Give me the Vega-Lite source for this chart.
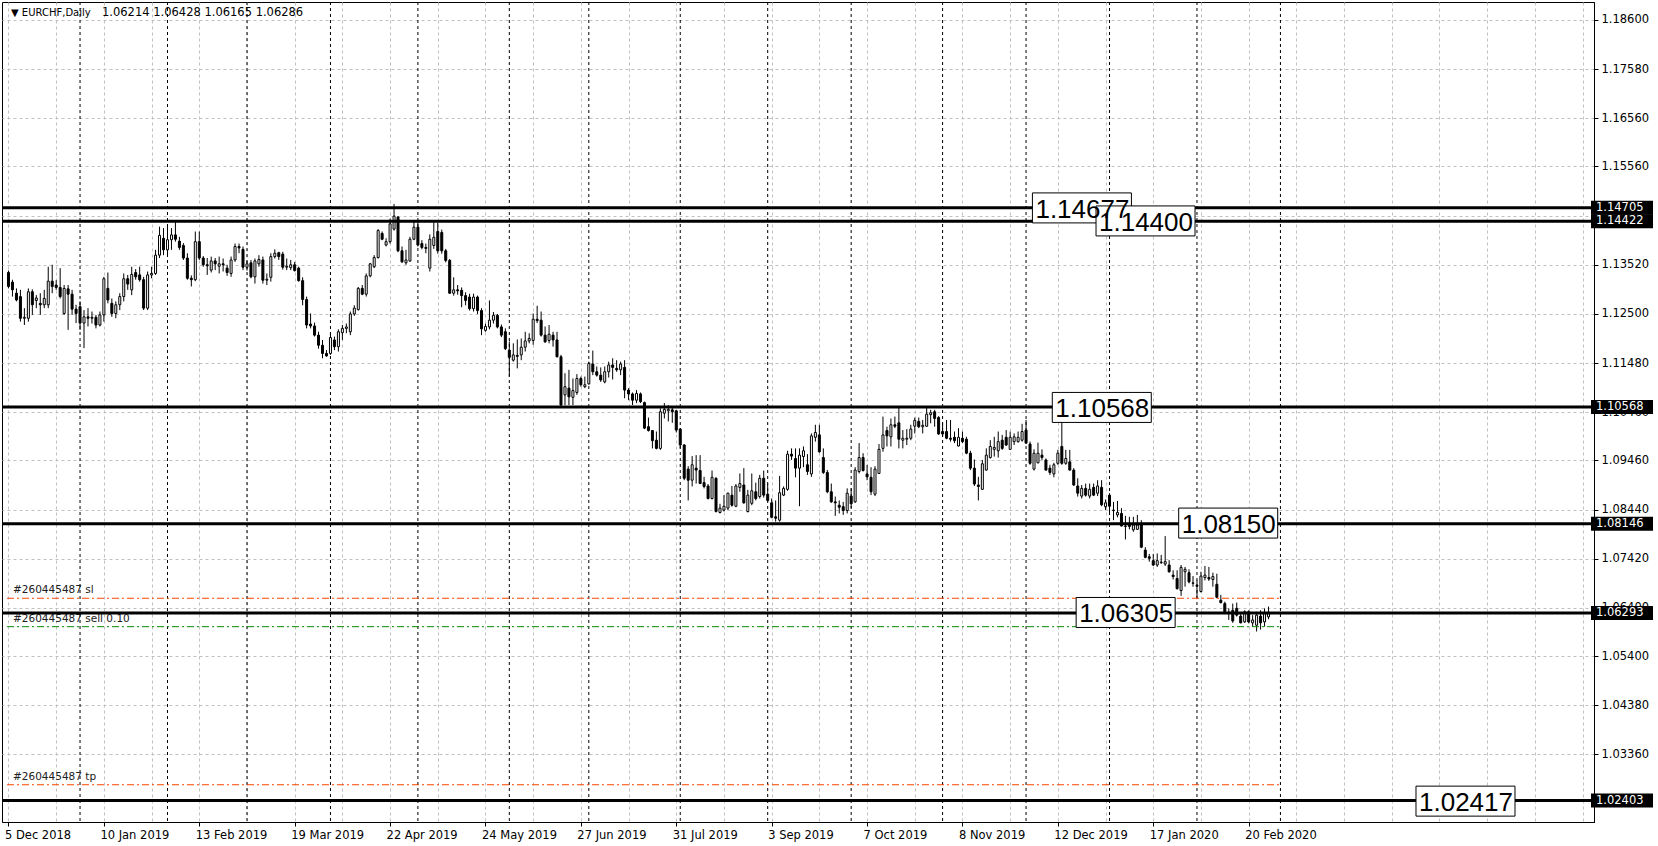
{
"$schema": "https://vega.github.io/schema/vega-lite/v6.json",
"width": 1592, "height": 820,
"autosize": {"type": "none"},
"padding": {"left": 2, "top": 2, "right": 64, "bottom": 24},
"background": "white",
"config": {"view": {"stroke": "#000000", "strokeWidth": 1}, "font": "DejaVu Sans"},
"datasets": {
"candles": [
{"i":0,"o":1.1336,"h":1.1340,"l":1.1303,"c":1.1307},
{"i":1,"o":1.1316,"h":1.1321,"l":1.1286,"c":1.1300},
{"i":2,"o":1.1293,"h":1.1303,"l":1.1276,"c":1.1279},
{"i":3,"o":1.1286,"h":1.1300,"l":1.1234,"c":1.1241},
{"i":4,"o":1.1241,"h":1.1262,"l":1.1227,"c":1.1243},
{"i":5,"o":1.1241,"h":1.1303,"l":1.1234,"c":1.1296},
{"i":6,"o":1.1296,"h":1.1301,"l":1.1248,"c":1.1269},
{"i":7,"o":1.1278,"h":1.1289,"l":1.1262,"c":1.1283},
{"i":8,"o":1.1272,"h":1.1293,"l":1.1248,"c":1.1269},
{"i":9,"o":1.1269,"h":1.1300,"l":1.1262,"c":1.1282},
{"i":10,"o":1.1269,"h":1.1348,"l":1.1262,"c":1.1318},
{"i":11,"o":1.1318,"h":1.1352,"l":1.1293,"c":1.1307},
{"i":12,"o":1.1310,"h":1.1320,"l":1.1300,"c":1.1305},
{"i":13,"o":1.1305,"h":1.1345,"l":1.1282,"c":1.1286},
{"i":14,"o":1.1251,"h":1.1310,"l":1.1248,"c":1.1303},
{"i":15,"o":1.1302,"h":1.1310,"l":1.1217,"c":1.1291},
{"i":16,"o":1.1291,"h":1.1300,"l":1.1248,"c":1.1260},
{"i":17,"o":1.1260,"h":1.1269,"l":1.1231,"c":1.1251},
{"i":18,"o":1.1265,"h":1.1276,"l":1.1217,"c":1.1231},
{"i":19,"o":1.1231,"h":1.1258,"l":1.1179,"c":1.1244},
{"i":20,"o":1.1244,"h":1.1262,"l":1.1224,"c":1.1241},
{"i":21,"o":1.1241,"h":1.1255,"l":1.1230,"c":1.1243},
{"i":22,"o":1.1243,"h":1.1248,"l":1.1220,"c":1.1227},
{"i":23,"o":1.1227,"h":1.1255,"l":1.1224,"c":1.1248},
{"i":24,"o":1.1248,"h":1.1327,"l":1.1234,"c":1.1323},
{"i":25,"o":1.1303,"h":1.1336,"l":1.1272,"c":1.1279},
{"i":26,"o":1.1272,"h":1.1282,"l":1.1244,"c":1.1251},
{"i":27,"o":1.1251,"h":1.1276,"l":1.1241,"c":1.1269},
{"i":28,"o":1.1269,"h":1.1293,"l":1.1258,"c":1.1286},
{"i":29,"o":1.1286,"h":1.1334,"l":1.1276,"c":1.1323},
{"i":30,"o":1.1323,"h":1.1331,"l":1.1300,"c":1.1312},
{"i":31,"o":1.1300,"h":1.1348,"l":1.1289,"c":1.1332},
{"i":32,"o":1.1336,"h":1.1343,"l":1.1321,"c":1.1327},
{"i":33,"o":1.1331,"h":1.1348,"l":1.1317,"c":1.1321},
{"i":34,"o":1.1321,"h":1.1327,"l":1.1258,"c":1.1262},
{"i":35,"o":1.1262,"h":1.1338,"l":1.1258,"c":1.1331},
{"i":36,"o":1.1331,"h":1.1348,"l":1.1324,"c":1.1334},
{"i":37,"o":1.1334,"h":1.1383,"l":1.1331,"c":1.1372},
{"i":38,"o":1.1372,"h":1.1431,"l":1.1366,"c":1.1413},
{"i":39,"o":1.1407,"h":1.1428,"l":1.1372,"c":1.1383},
{"i":40,"o":1.1383,"h":1.1431,"l":1.1369,"c":1.1404},
{"i":41,"o":1.1404,"h":1.1428,"l":1.1383,"c":1.1414},
{"i":42,"o":1.1414,"h":1.1442,"l":1.1400,"c":1.1405},
{"i":43,"o":1.1401,"h":1.1410,"l":1.1383,"c":1.1388},
{"i":44,"o":1.1392,"h":1.1397,"l":1.1362,"c":1.1366},
{"i":45,"o":1.1366,"h":1.1376,"l":1.1321,"c":1.1324},
{"i":46,"o":1.1324,"h":1.1330,"l":1.1307,"c":1.1321},
{"i":47,"o":1.1321,"h":1.1421,"l":1.1318,"c":1.1400},
{"i":48,"o":1.1400,"h":1.1421,"l":1.1362,"c":1.1366},
{"i":49,"o":1.1366,"h":1.1370,"l":1.1348,"c":1.1352},
{"i":50,"o":1.1352,"h":1.1366,"l":1.1331,"c":1.1350},
{"i":51,"o":1.1341,"h":1.1369,"l":1.1336,"c":1.1360},
{"i":52,"o":1.1360,"h":1.1366,"l":1.1341,"c":1.1354},
{"i":53,"o":1.1349,"h":1.1369,"l":1.1334,"c":1.1354},
{"i":54,"o":1.1354,"h":1.1365,"l":1.1338,"c":1.1352},
{"i":55,"o":1.1345,"h":1.1352,"l":1.1329,"c":1.1336},
{"i":56,"o":1.1334,"h":1.1369,"l":1.1327,"c":1.1362},
{"i":57,"o":1.1362,"h":1.1396,"l":1.1358,"c":1.1390},
{"i":58,"o":1.1390,"h":1.1396,"l":1.1376,"c":1.1387},
{"i":59,"o":1.1384,"h":1.1390,"l":1.1341,"c":1.1347},
{"i":60,"o":1.1347,"h":1.1360,"l":1.1340,"c":1.1354},
{"i":61,"o":1.1356,"h":1.1362,"l":1.1324,"c":1.1327},
{"i":62,"o":1.1327,"h":1.1365,"l":1.1313,"c":1.1360},
{"i":63,"o":1.1354,"h":1.1372,"l":1.1348,"c":1.1363},
{"i":64,"o":1.1362,"h":1.1369,"l":1.1313,"c":1.1320},
{"i":65,"o":1.1320,"h":1.1334,"l":1.1310,"c":1.1322},
{"i":66,"o":1.1326,"h":1.1376,"l":1.1317,"c":1.1369},
{"i":67,"o":1.1369,"h":1.1384,"l":1.1365,"c":1.1376},
{"i":68,"o":1.1377,"h":1.1379,"l":1.1362,"c":1.1369},
{"i":69,"o":1.1374,"h":1.1379,"l":1.1342,"c":1.1347},
{"i":70,"o":1.1347,"h":1.1365,"l":1.1341,"c":1.1349},
{"i":71,"o":1.1346,"h":1.1362,"l":1.1341,"c":1.1352},
{"i":72,"o":1.1352,"h":1.1358,"l":1.1338,"c":1.1340},
{"i":73,"o":1.1345,"h":1.1348,"l":1.1317,"c":1.1319},
{"i":74,"o":1.1319,"h":1.1326,"l":1.1268,"c":1.1280},
{"i":75,"o":1.1280,"h":1.1286,"l":1.1220,"c":1.1227},
{"i":76,"o":1.1229,"h":1.1251,"l":1.1220,"c":1.1225},
{"i":77,"o":1.1225,"h":1.1232,"l":1.1203,"c":1.1206},
{"i":78,"o":1.1206,"h":1.1213,"l":1.1178,"c":1.1185},
{"i":79,"o":1.1185,"h":1.1196,"l":1.1158,"c":1.1168},
{"i":80,"o":1.1168,"h":1.1175,"l":1.1161,"c":1.1163},
{"i":81,"o":1.1168,"h":1.1210,"l":1.1165,"c":1.1201},
{"i":82,"o":1.1196,"h":1.1203,"l":1.1175,"c":1.1182},
{"i":83,"o":1.1182,"h":1.1218,"l":1.1172,"c":1.1213},
{"i":84,"o":1.1211,"h":1.1227,"l":1.1196,"c":1.1220},
{"i":85,"o":1.1220,"h":1.1230,"l":1.1210,"c":1.1223},
{"i":86,"o":1.1213,"h":1.1255,"l":1.1206,"c":1.1250},
{"i":87,"o":1.1250,"h":1.1268,"l":1.1246,"c":1.1262},
{"i":88,"o":1.1259,"h":1.1306,"l":1.1257,"c":1.1303},
{"i":89,"o":1.1303,"h":1.1310,"l":1.1289,"c":1.1291},
{"i":90,"o":1.1291,"h":1.1334,"l":1.1286,"c":1.1329},
{"i":91,"o":1.1329,"h":1.1356,"l":1.1326,"c":1.1354},
{"i":92,"o":1.1348,"h":1.1372,"l":1.1345,"c":1.1367},
{"i":93,"o":1.1367,"h":1.1426,"l":1.1365,"c":1.1423},
{"i":94,"o":1.1417,"h":1.1421,"l":1.1403,"c":1.1405},
{"i":95,"o":1.1393,"h":1.1407,"l":1.1390,"c":1.1400},
{"i":96,"o":1.1400,"h":1.1448,"l":1.1396,"c":1.1437},
{"i":97,"o":1.1426,"h":1.1478,"l":1.1423,"c":1.1453},
{"i":98,"o":1.1451,"h":1.1453,"l":1.1378,"c":1.1381},
{"i":99,"o":1.1381,"h":1.1390,"l":1.1356,"c":1.1358},
{"i":100,"o":1.1356,"h":1.1383,"l":1.1352,"c":1.1362},
{"i":101,"o":1.1360,"h":1.1410,"l":1.1358,"c":1.1405},
{"i":102,"o":1.1405,"h":1.1445,"l":1.1403,"c":1.1430},
{"i":103,"o":1.1430,"h":1.1445,"l":1.1390,"c":1.1393},
{"i":104,"o":1.1396,"h":1.1403,"l":1.1384,"c":1.1388},
{"i":105,"o":1.1388,"h":1.1396,"l":1.1376,"c":1.1386},
{"i":106,"o":1.1345,"h":1.1415,"l":1.1338,"c":1.1405},
{"i":107,"o":1.1392,"h":1.1440,"l":1.1385,"c":1.1409},
{"i":108,"o":1.1421,"h":1.1440,"l":1.1375,"c":1.1381},
{"i":109,"o":1.1419,"h":1.1425,"l":1.1375,"c":1.1381},
{"i":110,"o":1.1381,"h":1.1385,"l":1.1357,"c":1.1361},
{"i":111,"o":1.1361,"h":1.1364,"l":1.1292,"c":1.1293},
{"i":112,"o":1.1293,"h":1.1326,"l":1.1288,"c":1.1300},
{"i":113,"o":1.1300,"h":1.1310,"l":1.1290,"c":1.1298},
{"i":114,"o":1.1299,"h":1.1305,"l":1.1264,"c":1.1288},
{"i":115,"o":1.1288,"h":1.1295,"l":1.1268,"c":1.1278},
{"i":116,"o":1.1285,"h":1.1292,"l":1.1257,"c":1.1261},
{"i":117,"o":1.1261,"h":1.1292,"l":1.1255,"c":1.1285},
{"i":118,"o":1.1285,"h":1.1288,"l":1.1250,"c":1.1257},
{"i":119,"o":1.1257,"h":1.1262,"l":1.1206,"c":1.1219},
{"i":120,"o":1.1216,"h":1.1230,"l":1.1213,"c":1.1224},
{"i":121,"o":1.1223,"h":1.1278,"l":1.1218,"c":1.1237},
{"i":122,"o":1.1237,"h":1.1254,"l":1.1230,"c":1.1247},
{"i":123,"o":1.1247,"h":1.1250,"l":1.1220,"c":1.1223},
{"i":124,"o":1.1223,"h":1.1228,"l":1.1202,"c":1.1206},
{"i":125,"o":1.1213,"h":1.1220,"l":1.1175,"c":1.1178},
{"i":126,"o":1.1175,"h":1.1193,"l":1.1120,"c":1.1160},
{"i":127,"o":1.1154,"h":1.1189,"l":1.1151,"c":1.1165},
{"i":128,"o":1.1164,"h":1.1197,"l":1.1137,"c":1.1162},
{"i":129,"o":1.1165,"h":1.1199,"l":1.1154,"c":1.1181},
{"i":130,"o":1.1181,"h":1.1213,"l":1.1172,"c":1.1194},
{"i":131,"o":1.1194,"h":1.1210,"l":1.1189,"c":1.1199},
{"i":132,"o":1.1195,"h":1.1251,"l":1.1186,"c":1.1239},
{"i":133,"o":1.1239,"h":1.1267,"l":1.1231,"c":1.1236},
{"i":134,"o":1.1237,"h":1.1255,"l":1.1203,"c":1.1206},
{"i":135,"o":1.1206,"h":1.1224,"l":1.1190,"c":1.1192},
{"i":136,"o":1.1195,"h":1.1227,"l":1.1189,"c":1.1208},
{"i":137,"o":1.1206,"h":1.1213,"l":1.1182,"c":1.1196},
{"i":138,"o":1.1196,"h":1.1213,"l":1.1160,"c":1.1161},
{"i":139,"o":1.1161,"h":1.1165,"l":1.1059,"c":1.1061},
{"i":140,"o":1.1082,"h":1.1127,"l":1.1061,"c":1.1099},
{"i":141,"o":1.1096,"h":1.1134,"l":1.1061,"c":1.1078},
{"i":142,"o":1.1077,"h":1.1116,"l":1.1061,"c":1.1091},
{"i":143,"o":1.1087,"h":1.1125,"l":1.1082,"c":1.1116},
{"i":144,"o":1.1116,"h":1.1120,"l":1.1099,"c":1.1103},
{"i":145,"o":1.1099,"h":1.1120,"l":1.1096,"c":1.1103},
{"i":146,"o":1.1105,"h":1.1151,"l":1.1103,"c":1.1147},
{"i":147,"o":1.1146,"h":1.1174,"l":1.1123,"c":1.1130},
{"i":148,"o":1.1130,"h":1.1141,"l":1.1120,"c":1.1123},
{"i":149,"o":1.1123,"h":1.1139,"l":1.1109,"c":1.1113},
{"i":150,"o":1.1109,"h":1.1141,"l":1.1106,"c":1.1130},
{"i":151,"o":1.1130,"h":1.1151,"l":1.1118,"c":1.1144},
{"i":152,"o":1.1144,"h":1.1158,"l":1.1114,"c":1.1139},
{"i":153,"o":1.1137,"h":1.1154,"l":1.1130,"c":1.1134},
{"i":154,"o":1.1134,"h":1.1151,"l":1.1123,"c":1.1146},
{"i":155,"o":1.1139,"h":1.1154,"l":1.1075,"c":1.1092},
{"i":156,"o":1.1092,"h":1.1096,"l":1.1071,"c":1.1084},
{"i":157,"o":1.1084,"h":1.1087,"l":1.1061,"c":1.1071},
{"i":158,"o":1.1071,"h":1.1092,"l":1.1065,"c":1.1085},
{"i":159,"o":1.1084,"h":1.1087,"l":1.1065,"c":1.1068},
{"i":160,"o":1.1066,"h":1.1068,"l":1.1011,"c":1.1013},
{"i":161,"o":1.1016,"h":1.1035,"l":1.1006,"c":1.1008},
{"i":162,"o":1.1008,"h":1.1009,"l":1.0971,"c":1.0987},
{"i":163,"o":1.0988,"h":1.1006,"l":1.0969,"c":1.0971},
{"i":164,"o":1.0971,"h":1.1054,"l":1.0968,"c":1.1047},
{"i":165,"o":1.1044,"h":1.1065,"l":1.1033,"c":1.1052},
{"i":166,"o":1.1049,"h":1.1061,"l":1.1027,"c":1.1052},
{"i":167,"o":1.1051,"h":1.1059,"l":1.1024,"c":1.1047},
{"i":168,"o":1.1049,"h":1.1051,"l":1.1004,"c":1.1009},
{"i":169,"o":1.1011,"h":1.1013,"l":1.0971,"c":1.0978},
{"i":170,"o":1.0978,"h":1.0980,"l":1.0905,"c":1.0909},
{"i":171,"o":1.0928,"h":1.0934,"l":1.0863,"c":1.0905},
{"i":172,"o":1.0905,"h":1.0955,"l":1.0892,"c":1.0937},
{"i":173,"o":1.0930,"h":1.0957,"l":1.0898,"c":1.0926},
{"i":174,"o":1.0925,"h":1.0957,"l":1.0897,"c":1.0898},
{"i":175,"o":1.0900,"h":1.0912,"l":1.0888,"c":1.0892},
{"i":176,"o":1.0893,"h":1.0897,"l":1.0865,"c":1.0867},
{"i":177,"o":1.0867,"h":1.0925,"l":1.0865,"c":1.0911},
{"i":178,"o":1.0909,"h":1.0911,"l":1.0838,"c":1.0840},
{"i":179,"o":1.0838,"h":1.0856,"l":1.0836,"c":1.0847},
{"i":180,"o":1.0843,"h":1.0874,"l":1.0840,"c":1.0851},
{"i":181,"o":1.0847,"h":1.0879,"l":1.0843,"c":1.0878},
{"i":182,"o":1.0874,"h":1.0893,"l":1.0850,"c":1.0853},
{"i":183,"o":1.0851,"h":1.0897,"l":1.0849,"c":1.0893},
{"i":184,"o":1.0890,"h":1.0919,"l":1.0881,"c":1.0898},
{"i":185,"o":1.0895,"h":1.0930,"l":1.0856,"c":1.0858},
{"i":186,"o":1.0840,"h":1.0885,"l":1.0838,"c":1.0874},
{"i":187,"o":1.0857,"h":1.0919,"l":1.0853,"c":1.0883},
{"i":188,"o":1.0881,"h":1.0900,"l":1.0863,"c":1.0867},
{"i":189,"o":1.0871,"h":1.0916,"l":1.0867,"c":1.0909},
{"i":190,"o":1.0909,"h":1.0925,"l":1.0869,"c":1.0874},
{"i":191,"o":1.0876,"h":1.0898,"l":1.0860,"c":1.0863},
{"i":192,"o":1.0858,"h":1.0867,"l":1.0826,"c":1.0828},
{"i":193,"o":1.0829,"h":1.0863,"l":1.0819,"c":1.0826},
{"i":194,"o":1.0822,"h":1.0914,"l":1.0819,"c":1.0879},
{"i":195,"o":1.0874,"h":1.0892,"l":1.0872,"c":1.0888},
{"i":196,"o":1.0886,"h":1.0966,"l":1.0883,"c":1.0959},
{"i":197,"o":1.0959,"h":1.0971,"l":1.0947,"c":1.0955},
{"i":198,"o":1.0950,"h":1.0971,"l":1.0911,"c":1.0930},
{"i":199,"o":1.0930,"h":1.0971,"l":1.0851,"c":1.0957},
{"i":200,"o":1.0954,"h":1.0975,"l":1.0932,"c":1.0966},
{"i":201,"o":1.0937,"h":1.0959,"l":1.0916,"c":1.0923},
{"i":202,"o":1.0918,"h":1.1002,"l":1.0912,"c":1.0997},
{"i":203,"o":1.0994,"h":1.1020,"l":1.0985,"c":1.1004},
{"i":204,"o":1.0999,"h":1.1020,"l":1.0962,"c":1.0964},
{"i":205,"o":1.0952,"h":1.0971,"l":1.0918,"c":1.0921},
{"i":206,"o":1.0921,"h":1.0926,"l":1.0878,"c":1.0881},
{"i":207,"o":1.0881,"h":1.0898,"l":1.0858,"c":1.0860},
{"i":208,"o":1.0860,"h":1.0871,"l":1.0831,"c":1.0858},
{"i":209,"o":1.0853,"h":1.0863,"l":1.0836,"c":1.0849},
{"i":210,"o":1.0850,"h":1.0860,"l":1.0833,"c":1.0842},
{"i":211,"o":1.0842,"h":1.0888,"l":1.0836,"c":1.0878},
{"i":212,"o":1.0872,"h":1.0888,"l":1.0847,"c":1.0856},
{"i":213,"o":1.0860,"h":1.0932,"l":1.0858,"c":1.0926},
{"i":214,"o":1.0923,"h":1.0982,"l":1.0919,"c":1.0952},
{"i":215,"o":1.0952,"h":1.0961,"l":1.0923,"c":1.0925},
{"i":216,"o":1.0918,"h":1.0937,"l":1.0905,"c":1.0912},
{"i":217,"o":1.0911,"h":1.0932,"l":1.0874,"c":1.0881},
{"i":218,"o":1.0876,"h":1.0934,"l":1.0872,"c":1.0928},
{"i":219,"o":1.0919,"h":1.0980,"l":1.0918,"c":1.0969},
{"i":220,"o":1.0971,"h":1.1037,"l":1.0964,"c":1.0999},
{"i":221,"o":1.1008,"h":1.1016,"l":1.0975,"c":1.0997},
{"i":222,"o":1.0995,"h":1.1033,"l":1.0975,"c":1.1020},
{"i":223,"o":1.1020,"h":1.1037,"l":1.1013,"c":1.1017},
{"i":224,"o":1.1024,"h":1.1056,"l":1.0971,"c":1.0990},
{"i":225,"o":1.0988,"h":1.1009,"l":1.0971,"c":1.0992},
{"i":226,"o":1.0990,"h":1.1011,"l":1.0978,"c":1.0992},
{"i":227,"o":1.0992,"h":1.1020,"l":1.0988,"c":1.1011},
{"i":228,"o":1.1017,"h":1.1035,"l":1.1002,"c":1.1029},
{"i":229,"o":1.1027,"h":1.1035,"l":1.1013,"c":1.1016},
{"i":230,"o":1.1016,"h":1.1030,"l":1.1002,"c":1.1019},
{"i":231,"o":1.1017,"h":1.1056,"l":1.1016,"c":1.1042},
{"i":232,"o":1.1041,"h":1.1051,"l":1.1023,"c":1.1045},
{"i":233,"o":1.1047,"h":1.1051,"l":1.1016,"c":1.1033},
{"i":234,"o":1.1035,"h":1.1038,"l":1.0999,"c":1.1001},
{"i":235,"o":1.1006,"h":1.1024,"l":1.0995,"c":1.1001},
{"i":236,"o":1.1006,"h":1.1030,"l":1.0990,"c":1.0992},
{"i":237,"o":1.0992,"h":1.1030,"l":1.0985,"c":1.0990},
{"i":238,"o":1.0994,"h":1.1006,"l":1.0982,"c":1.0987},
{"i":239,"o":1.0976,"h":1.1013,"l":1.0975,"c":1.0994},
{"i":240,"o":1.0992,"h":1.1006,"l":1.0982,"c":1.0985},
{"i":241,"o":1.0990,"h":1.0995,"l":1.0959,"c":1.0961},
{"i":242,"o":1.0961,"h":1.0966,"l":1.0926,"c":1.0930},
{"i":243,"o":1.0930,"h":1.0948,"l":1.0893,"c":1.0897},
{"i":244,"o":1.0895,"h":1.0912,"l":1.0863,"c":1.0892},
{"i":245,"o":1.0886,"h":1.0947,"l":1.0885,"c":1.0939},
{"i":246,"o":1.0926,"h":1.0971,"l":1.0925,"c":1.0957},
{"i":247,"o":1.0952,"h":1.0988,"l":1.0950,"c":1.0975},
{"i":248,"o":1.0969,"h":1.0995,"l":1.0954,"c":1.0973},
{"i":249,"o":1.0966,"h":1.1006,"l":1.0952,"c":1.0985},
{"i":250,"o":1.0988,"h":1.0999,"l":1.0968,"c":1.0971},
{"i":251,"o":1.0994,"h":1.1009,"l":1.0976,"c":1.0978},
{"i":252,"o":1.0969,"h":1.1006,"l":1.0968,"c":1.0994},
{"i":253,"o":1.0985,"h":1.1002,"l":1.0978,"c":1.0995},
{"i":254,"o":1.0985,"h":1.1006,"l":1.0983,"c":1.0994},
{"i":255,"o":1.0988,"h":1.1022,"l":1.0985,"c":1.1006},
{"i":256,"o":1.1009,"h":1.1030,"l":1.0980,"c":1.0982},
{"i":257,"o":1.0980,"h":1.0985,"l":1.0937,"c":1.0940},
{"i":258,"o":1.0928,"h":1.0969,"l":1.0925,"c":1.0961},
{"i":259,"o":1.0941,"h":1.0983,"l":1.0940,"c":1.0961},
{"i":260,"o":1.0957,"h":1.0969,"l":1.0947,"c":1.0952},
{"i":261,"o":1.0947,"h":1.0950,"l":1.0925,"c":1.0926},
{"i":262,"o":1.0930,"h":1.0937,"l":1.0916,"c":1.0921},
{"i":263,"o":1.0918,"h":1.0941,"l":1.0911,"c":1.0937},
{"i":264,"o":1.0940,"h":1.0968,"l":1.0937,"c":1.0961},
{"i":265,"o":1.0975,"h":1.1057,"l":1.0937,"c":1.0940},
{"i":266,"o":1.0940,"h":1.0968,"l":1.0937,"c":1.0950},
{"i":267,"o":1.0943,"h":1.0968,"l":1.0925,"c":1.0926},
{"i":268,"o":1.0926,"h":1.0930,"l":1.0893,"c":1.0895},
{"i":269,"o":1.0893,"h":1.0909,"l":1.0871,"c":1.0878},
{"i":270,"o":1.0872,"h":1.0895,"l":1.0867,"c":1.0888},
{"i":271,"o":1.0888,"h":1.0898,"l":1.0871,"c":1.0874},
{"i":272,"o":1.0872,"h":1.0898,"l":1.0867,"c":1.0886},
{"i":273,"o":1.0890,"h":1.0898,"l":1.0872,"c":1.0874},
{"i":274,"o":1.0878,"h":1.0905,"l":1.0872,"c":1.0893},
{"i":275,"o":1.0890,"h":1.0905,"l":1.0851,"c":1.0854},
{"i":276,"o":1.0850,"h":1.0865,"l":1.0843,"c":1.0858},
{"i":277,"o":1.0874,"h":1.0878,"l":1.0833,"c":1.0851},
{"i":278,"o":1.0843,"h":1.0860,"l":1.0822,"c":1.0842},
{"i":279,"o":1.0833,"h":1.0862,"l":1.0828,"c":1.0838},
{"i":280,"o":1.0836,"h":1.0847,"l":1.0809,"c":1.0810},
{"i":281,"o":1.0810,"h":1.0831,"l":1.0782,"c":1.0809},
{"i":282,"o":1.0812,"h":1.0829,"l":1.0803,"c":1.0809},
{"i":283,"o":1.0802,"h":1.0829,"l":1.0798,"c":1.0812},
{"i":284,"o":1.0803,"h":1.0833,"l":1.0802,"c":1.0812},
{"i":285,"o":1.0812,"h":1.0822,"l":1.0764,"c":1.0766},
{"i":286,"o":1.0760,"h":1.0766,"l":1.0743,"c":1.0745},
{"i":287,"o":1.0746,"h":1.0752,"l":1.0736,"c":1.0743},
{"i":288,"o":1.0738,"h":1.0752,"l":1.0727,"c":1.0729},
{"i":289,"o":1.0729,"h":1.0753,"l":1.0725,"c":1.0738},
{"i":290,"o":1.0734,"h":1.0750,"l":1.0731,"c":1.0735},
{"i":291,"o":1.0731,"h":1.0789,"l":1.0727,"c":1.0736},
{"i":292,"o":1.0729,"h":1.0739,"l":1.0713,"c":1.0715},
{"i":293,"o":1.0708,"h":1.0718,"l":1.0699,"c":1.0705},
{"i":294,"o":1.0701,"h":1.0718,"l":1.0678,"c":1.0680},
{"i":295,"o":1.0676,"h":1.0729,"l":1.0665,"c":1.0724},
{"i":296,"o":1.0715,"h":1.0725,"l":1.0684,"c":1.0720},
{"i":297,"o":1.0713,"h":1.0720,"l":1.0691,"c":1.0694},
{"i":298,"o":1.0691,"h":1.0706,"l":1.0684,"c":1.0692},
{"i":299,"o":1.0687,"h":1.0697,"l":1.0660,"c":1.0685},
{"i":300,"o":1.0674,"h":1.0715,"l":1.0672,"c":1.0706},
{"i":301,"o":1.0703,"h":1.0727,"l":1.0697,"c":1.0708},
{"i":302,"o":1.0703,"h":1.0725,"l":1.0696,"c":1.0700},
{"i":303,"o":1.0699,"h":1.0713,"l":1.0684,"c":1.0705},
{"i":304,"o":1.0689,"h":1.0711,"l":1.0660,"c":1.0662},
{"i":305,"o":1.0656,"h":1.0667,"l":1.0649,"c":1.0651},
{"i":306,"o":1.0649,"h":1.0653,"l":1.0629,"c":1.0632},
{"i":307,"o":1.0630,"h":1.0639,"l":1.0615,"c":1.0631},
{"i":308,"o":1.0635,"h":1.0649,"l":1.0609,"c":1.0613},
{"i":309,"o":1.0639,"h":1.0651,"l":1.0622,"c":1.0625},
{"i":310,"o":1.0623,"h":1.0630,"l":1.0608,"c":1.0609},
{"i":311,"o":1.0611,"h":1.0635,"l":1.0609,"c":1.0632},
{"i":312,"o":1.0632,"h":1.0635,"l":1.0608,"c":1.0611},
{"i":313,"o":1.0609,"h":1.0625,"l":1.0601,"c":1.0615},
{"i":314,"o":1.0604,"h":1.0632,"l":1.0591,"c":1.0625},
{"i":315,"o":1.0623,"h":1.0635,"l":1.0595,"c":1.0609},
{"i":316,"o":1.0611,"h":1.0639,"l":1.0601,"c":1.0629},
{"i":317,"o":1.06214,"h":1.06428,"l":1.06165,"c":1.06286}
],
"levels": [
{"p":1.14705,"t":"1.14705"},{"p":1.14422,"t":"1.14422"},{"p":1.10568,"t":"1.10568"},
{"p":1.08146,"t":"1.08146"},{"p":1.06293,"t":"1.06293"},{"p":1.02403,"t":"1.02403"}
],
"orders": [
{"type":"sl","p":1.0660,"t":"#260445487 sl"},
{"type":"open","p":1.0601,"t":"#260445487 sell 0.10"},
{"type":"tp","p":1.0273,"t":"#260445487 tp"}
],
"boxes": [
{"i":257.6,"p":1.1470,"t":"1.14677"},
{"i":273.6,"p":1.1443,"t":"1.14400"},
{"i":262.6,"p":1.1056,"t":"1.10568"},
{"i":294.4,"p":1.0816,"t":"1.08150"},
{"i":268.6,"p":1.06305,"t":"1.06305"},
{"i":354.1,"p":1.0239,"t":"1.02417"}
],
"header": [{"sym": "▼ EURCHF,Daily", "ohlc": "1.06214 1.06428 1.06165 1.06286"}],
"seps": [{"i":18},{"i":40},{"i":60},{"i":81},{"i":103},{"i":126},{"i":146},{"i":169},{"i":191},{"i":212},{"i":235},{"i":256},{"i":277},{"i":299},{"i":320}]
},
"layer": [
{
"data": {"name": "candles"},
"mark": {"type": "rule", "color": "black", "strokeWidth": 1},
"encoding": {
"x": {"field": "i", "type": "quantitative", "title": null,
 "scale": {"domain": [-0.375, 397.625], "nice": false, "zero": false},
 "axis": {"title": null, "orient": "bottom",
  "values": [0,12,24,36,48,60,72,84,96,108,120,132,144,156,168,180,192,204,216,228,240,252,264,276,288,300,312,324,336,348,360,372,384,396],
  "labelExpr": "(datum.value % 24 == 0 && datum.value <= 312) ? ['5 Dec 2018','10 Jan 2019','13 Feb 2019','19 Mar 2019','22 Apr 2019','24 May 2019','27 Jun 2019','31 Jul 2019','3 Sep 2019','7 Oct 2019','8 Nov 2019','12 Dec 2019','17 Jan 2020','20 Feb 2020'][datum.value / 24] : ''",
  "labelAlign": "left", "labelBaseline": "top", "labelPadding": 3, "labelOffset": -4, "labelFont": "DejaVu Sans", "labelFontSize": 11.5, "labelColor": "black",
  "labelOverlap": false, "labelFlush": false, "labelBound": false,
  "tickSize": 4, "tickColor": "black",
  "tickOpacity": {"condition": {"test": "datum.value % 24 == 0 && datum.value <= 312", "value": 1}, "value": 0},
  "domainColor": "black", "grid": true, "gridColor": "#c0c0c0", "gridDash": [3,3], "gridWidth": 1}},
"y": {"field": "l", "type": "quantitative", "title": null,
 "scale": {"domain": [1.01957, 1.18973], "nice": false, "zero": false},
 "axis": {"title": null, "orient": "right",
  "values": [1.186,1.1758,1.1656,1.1556,1.1454,1.1352,1.125,1.1148,1.1046,1.0946,1.0844,1.0742,1.064,1.054,1.0438,1.0336],
  "format": ".5f", "labelFont": "DejaVu Sans", "labelFontSize": 11.5, "labelColor": "black", "labelPadding": 3,
  "labelOverlap": false, "labelBound": false, "labelFlush": false,
  "tickSize": 4, "tickColor": "black", "domainColor": "black",
  "grid": true, "gridColor": "#c0c0c0", "gridDash": [3,3], "gridWidth": 1}},
"y2": {"field": "h"}
}
},
{
"data": {"name": "seps"},
"mark": {"type": "rule", "color": "black", "strokeWidth": 1, "strokeDash": [3,3]},
"encoding": {"x": {"field": "i", "type": "quantitative", "title": null}}
},
{
"data": {"name": "candles"},
"mark": {"type": "bar", "size": 2, "stroke": "black", "strokeWidth": 1},
"encoding": {
"x": {"field": "i", "type": "quantitative", "title": null},
"y": {"field": "o", "type": "quantitative", "title": null},
"y2": {"field": "c"},
"fill": {"condition": {"test": "datum.c < datum.o", "value": "black"}, "value": "white"}
}
},
{
"data": {"name": "orders"},
"mark": {"type": "rule", "strokeWidth": 1, "strokeDash": [7,3,2,3]},
"encoding": {
"x": {"datum": -0.375, "type": "quantitative", "title": null},
"x2": {"datum": 320},
"y": {"field": "p", "type": "quantitative", "title": null},
"color": {"field": "type", "type": "nominal", "scale": {"domain": ["sl","open","tp"], "range": ["#ff4500","#008c00","#ff4500"]}, "legend": null}
}
},
{
"data": {"name": "orders"},
"mark": {"type": "text", "align": "left", "baseline": "middle", "dx": 6, "dy": -8, "font": "DejaVu Sans", "fontSize": 10.5, "color": "#202020"},
"encoding": {
"x": {"datum": -0.375, "type": "quantitative", "title": null},
"y": {"field": "p", "type": "quantitative", "title": null},
"text": {"field": "t"}
}
},
{
"data": {"name": "levels"},
"mark": {"type": "rule", "color": "black", "strokeWidth": 3},
"encoding": {"y": {"field": "p", "type": "quantitative", "title": null}}
},
{
"data": {"name": "boxes"},
"mark": {"type": "rect", "fill": "white", "stroke": "black", "strokeWidth": 1, "x2Offset": 99, "yOffset": -15, "y2Offset": 15},
"encoding": {
"x": {"field": "i", "type": "quantitative", "title": null},
"x2": {"field": "i"},
"y": {"field": "p", "type": "quantitative", "title": null},
"y2": {"field": "p"}
}
},
{
"data": {"name": "boxes"},
"mark": {"type": "text", "align": "left", "baseline": "alphabetic", "dx": 3, "dy": 10, "font": "Liberation Sans", "fontSize": 26, "color": "black"},
"encoding": {
"x": {"field": "i", "type": "quantitative", "title": null},
"y": {"field": "p", "type": "quantitative", "title": null},
"text": {"field": "t"}
}
},
{
"data": {"name": "levels"},
"mark": {"type": "rect", "fill": "black", "xOffset": 2, "x2Offset": 64, "yOffset": -7, "y2Offset": 7},
"encoding": {
"x": {"datum": 397.625, "type": "quantitative", "title": null},
"x2": {"datum": 397.625},
"y": {"field": "p", "type": "quantitative", "title": null},
"y2": {"field": "p"}
}
},
{
"data": {"name": "levels"},
"mark": {"type": "text", "align": "left", "baseline": "middle", "dx": 7, "font": "DejaVu Sans", "fontSize": 11.5, "color": "white"},
"encoding": {
"x": {"datum": -0.375, "type": "quantitative", "title": null},
"y": {"field": "p", "type": "quantitative", "title": null},
"text": {"field": "t"}
},
"transform": [{"filter": "false"}]
},
{
"data": {"name": "levels"},
"mark": {"type": "text", "align": "left", "baseline": "middle", "dx": 7, "font": "DejaVu Sans", "fontSize": 11.5, "color": "white"},
"encoding": {
"x": {"datum": 397.625, "type": "quantitative", "title": null},
"y": {"field": "p", "type": "quantitative", "title": null},
"text": {"field": "t"}
}
},
{
"data": {"name": "header"},
"mark": {"type": "text", "align": "left", "baseline": "middle", "dx": 4, "dy": 11, "font": "DejaVu Sans", "fontSize": 10, "color": "black"},
"encoding": {
"x": {"datum": -0.375, "type": "quantitative", "title": null},
"y": {"datum": 1.18973, "type": "quantitative", "title": null},
"text": {"field": "sym"}
}
},
{
"data": {"name": "header"},
"mark": {"type": "text", "align": "left", "baseline": "middle", "dx": 95, "dy": 11, "font": "DejaVu Sans", "fontSize": 11.5, "color": "black"},
"encoding": {
"x": {"datum": -0.375, "type": "quantitative", "title": null},
"y": {"datum": 1.18973, "type": "quantitative", "title": null},
"text": {"field": "ohlc"}
}
}
]
}
